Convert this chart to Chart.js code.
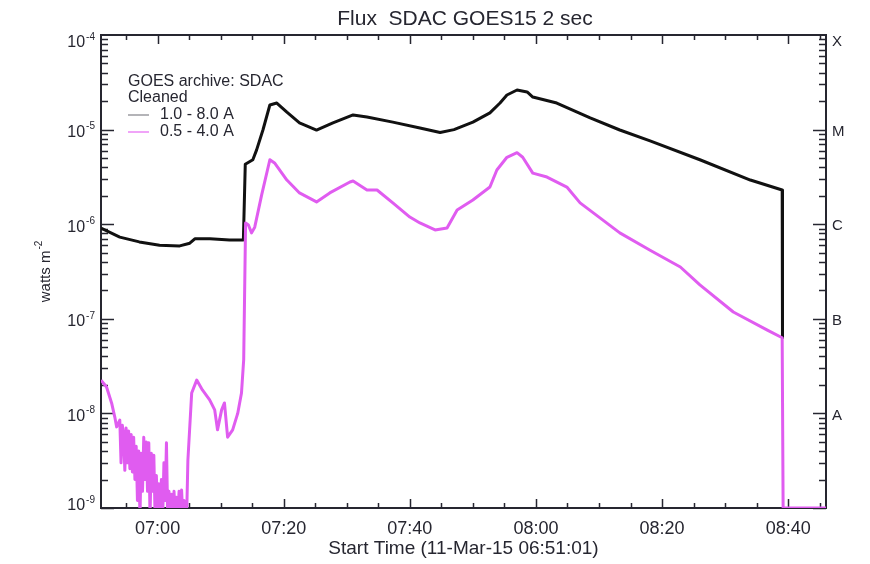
<!DOCTYPE html>
<html>
<head>
<meta charset="utf-8">
<title>Flux SDAC GOES15 2 sec</title>
<script src="https://cdn.jsdelivr.net/npm/chart.js@4.4.1/dist/chart.umd.min.js"></script>
<style>
  html, body { margin: 0; padding: 0; background: #fff; }
  #wrap { width: 870px; height: 564px; }
</style>
</head>
<body>
<div id="wrap"><canvas id="flux" width="870" height="564"></canvas></div>
<script>
// times are minutes after 07:00 UT on 11-Mar-15, start of plot is 06:51:01
const timeLong = [-8.98, -6.0, -2.9, 0.3, 3.5, 5.1, 5.9, 8.3, 11.4, 13.6, 13.9, 15.1, 15.7, 16.7, 17.8, 18.9,
    20.5, 22.5, 25.2, 27.8, 31.0, 33.2, 37.3, 41.6, 44.8, 47.0, 50.0, 52.7, 54.3, 55.4, 57.0, 58.6, 59.5,
    63.3, 68.6, 73.3, 78.1, 86.0, 94.0, 99.05, 99.1];
const fluxLong = [9.1e-7, 7.3e-7, 6.5e-7, 6.0e-7, 5.9e-7, 6.3e-7, 7.0e-7, 7.0e-7, 6.8e-7, 6.8e-7, 4.3e-6, 4.8e-6,
    6.1e-6, 9.9e-6, 1.82e-5, 1.91e-5, 1.53e-5, 1.18e-5, 9.9e-6, 1.18e-5, 1.43e-5, 1.36e-5, 1.2e-5, 1.04e-5,
    9.3e-6, 1.0e-5, 1.2e-5, 1.5e-5, 1.91e-5, 2.32e-5, 2.62e-5, 2.5e-5, 2.21e-5, 1.91e-5, 1.33e-5, 9.9e-6,
    7.6e-6, 4.8e-6, 2.93e-6, 2.3e-6, 6.3e-8];

// the 0.5-4.0 A channel is at noise level before 07:05 (dips under 1e-9 are cut by the axis)
const timeShort = [-8.98, -8.1, -7.3, -6.8, -6.5,
    -6.0, -5.8, -5.6, -5.4, -5.2, -5.0, -4.8, -4.6, -4.4, -4.2,
    -4.0, -3.8, -3.6, -3.4, -3.2, -3.0, -2.8, -2.6, -2.4, -2.2,
    -2.0, -1.8, -1.6, -1.4, -1.2, -1.0, -0.8, -0.6, -0.4, -0.2,
    0.0, 0.2, 0.4, 0.6, 0.8, 1.0, 1.2, 1.4, 1.6, 1.8,
    2.0, 2.2, 2.4, 2.6, 2.8, 3.0, 3.2, 3.4, 3.6, 3.8,
    4.0, 4.2, 4.4, 4.6, 4.8,
    5.4, 6.2, 7.1, 8.25, 9.05, 9.5, 10.15, 10.6, 11.1, 11.9,
    12.7, 13.3, 13.65, 13.95, 14.4, 14.9, 15.4, 16.5, 17.8, 18.6,
    20.5, 22.5, 25.2, 27.3, 30.5, 31.0, 33.2, 34.8, 37.3, 40.0,
    41.6, 44.0, 45.9, 47.5, 50.0, 52.7, 53.8, 55.4, 57.0, 57.9,
    59.5, 61.75, 64.9, 67.0, 73.3, 78.1, 82.9, 86.0, 91.3, 96.7,
    99.05, 99.2, 106];
const fluxShort = [2.25e-8, 1.9e-8, 1.29e-8, 9.2e-9, 7.2e-9,
    8.5e-9, 3.0e-9, 7.5e-9, 6.0e-9, 2.5e-9, 7.0e-9, 3.0e-9, 6.5e-9, 2.6e-9, 6.0e-9,
    2.4e-9, 5.6e-9, 2.0e-9, 4.5e-9, 1.2e-9, 4.0e-9, 8e-10, 3.8e-9, 1.5e-9, 5.6e-9,
    2.0e-9, 5.0e-9, 1.5e-9, 4.9e-9, 8e-10, 3.8e-9, 1.5e-9, 3.6e-9, 8e-10, 2.2e-9,
    8e-10, 1.8e-9, 8e-10, 2.0e-9, 8e-10, 3.0e-9, 1.2e-9, 4.9e-9, 8e-10, 1.5e-9,
    8e-10, 1.4e-9, 8e-10, 1.5e-9, 8e-10, 1.3e-9, 8e-10, 1.5e-9, 8e-10, 1.55e-9,
    8e-10, 1.2e-9, 8e-10, 8e-10, 3.2e-9,
    1.64e-8, 2.25e-8, 1.77e-8, 1.39e-8, 1.09e-8, 6.7e-9, 1.09e-8, 1.29e-8, 5.6e-9, 6.7e-9,
    1.0e-8, 1.64e-8, 3.7e-8, 1.03e-6, 9.8e-7, 8.1e-7, 9.3e-7, 2.04e-6, 4.8e-6, 4.4e-6,
    2.93e-6, 2.14e-6, 1.72e-6, 2.14e-6, 2.79e-6, 2.86e-6, 2.3e-6, 2.3e-6, 1.68e-6, 1.19e-6,
    1.03e-6, 8.7e-7, 9.1e-7, 1.41e-6, 1.8e-6, 2.47e-6, 3.74e-6, 5.1e-6, 5.7e-6, 5.1e-6,
    3.47e-6, 3.15e-6, 2.47e-6, 1.68e-6, 8.1e-7, 5.3e-7, 3.53e-7, 2.28e-7, 1.18e-7, 7.6e-8,
    6.3e-8, 1e-9, 1e-9];

const timeLabels = [0, 20, 40, 60, 80, 100];
const decades = [1e-9, 1e-8, 1e-7, 1e-6, 1e-5, 1e-4];
const classes = ['', 'A', 'B', 'C', 'M', 'X'];
const legendHead = ['GOES archive: SDAC', 'Cleaned'];
const seriesNames = ['1.0 - 8.0 A', '0.5 - 4.0 A'];

const FONT = "'Liberation Sans', Arial, sans-serif";
const INK = '#262630';
const MAGENTA = '#e05cf0';

const hhmm = m => {
    const t = 7 * 60 + m;
    return String(Math.floor(t / 60)).padStart(2, '0') + ':' + String(t % 60).padStart(2, '0');
};

const frame = {
    id: 'frame',
    beforeDatasetsDraw(chart) {
        const { ctx, chartArea: a, scales: { x, y } } = chart;
        ctx.save();
        ctx.strokeStyle = INK;
        ctx.lineWidth = 1.5;
        ctx.beginPath();
        for (let m = -5; m <= 105; m += 5) {
            const px = Math.round(x.getPixelForValue(m)) + 0.5;
            const len = m % 20 === 0 ? 9 : 5;
            ctx.moveTo(px, a.bottom); ctx.lineTo(px, a.bottom - len);
            ctx.moveTo(px, a.top); ctx.lineTo(px, a.top + len);
        }
        decades.slice(0, -1).forEach(d => {
            for (let k = 1; k < 10; k++) {
                const py = Math.round(y.getPixelForValue(k * d)) + 0.5;
                const len = k === 1 ? 13 : 7;
                ctx.moveTo(a.left, py); ctx.lineTo(a.left + len, py);
                ctx.moveTo(a.right, py); ctx.lineTo(a.right - len, py);
            }
        });
        ctx.stroke();
        ctx.lineWidth = 2;
        ctx.strokeRect(a.left, a.top, a.right - a.left, a.bottom - a.top);
        ctx.restore();
    },
    afterDraw(chart) {
        const { ctx, chartArea: a, scales: { y, y2 } } = chart;
        ctx.save();
        ctx.fillStyle = INK;

        ctx.font = '21px ' + FONT;
        ctx.textAlign = 'center';
        ctx.textBaseline = 'middle';
        ctx.fillText('Flux  SDAC GOES15 2 sec', 465, 19);

        // decade labels 10^-n on the left, flare classes on the right
        decades.forEach((d, i) => {
            const e = Math.round(Math.log10(d));
            let py = y.getPixelForValue(d) + 3;
            py = Math.min(Math.max(py, a.top + 8), a.bottom - 2);
            ctx.textAlign = 'right';
            ctx.font = '10px ' + FONT;
            ctx.fillText(String(e), 95, py - 6);
            const w = ctx.measureText(String(e)).width;
            ctx.font = '16px ' + FONT;
            ctx.fillText('10', 95 - w - 1, py);

            let qy = y2.getPixelForValue(d) + 2;
            qy = Math.max(qy, a.top + 7);
            ctx.textAlign = 'left';
            ctx.font = '15px ' + FONT;
            ctx.fillText(classes[i], a.right + 6, qy);
        });

        // y title
        ctx.save();
        ctx.translate(46, 272);
        ctx.rotate(-Math.PI / 2);
        ctx.font = '15px ' + FONT;
        ctx.textAlign = 'left';
        const base = 'watts m';
        const bw = ctx.measureText(base).width;
        ctx.font = '10px ' + FONT;
        const sw = ctx.measureText('-2').width;
        const x0 = -(bw + sw) / 2;
        ctx.font = '15px ' + FONT;
        ctx.fillText(base, x0, 0);
        ctx.font = '10px ' + FONT;
        ctx.fillText('-2', x0 + bw + 1, -7);
        ctx.restore();

        // legend block
        ctx.font = '16px ' + FONT;
        ctx.textAlign = 'left';
        ctx.fillText(legendHead[0], 128, 82);
        ctx.fillText(legendHead[1], 128, 98);
        ctx.fillText(seriesNames[0], 160, 115);
        ctx.fillText(seriesNames[1], 160, 132);
        ctx.lineWidth = 2;
        ctx.strokeStyle = '#b4b4b8';
        ctx.beginPath(); ctx.moveTo(128, 115); ctx.lineTo(149, 115); ctx.stroke();
        ctx.strokeStyle = '#f0a4f8';
        ctx.beginPath(); ctx.moveTo(128, 132); ctx.lineTo(149, 132); ctx.stroke();
        ctx.restore();
    }
};

Chart.defaults.font.family = FONT;
Chart.defaults.color = INK;

new Chart(document.getElementById('flux'), {
    type: 'line',
    data: {
        datasets: [{
            label: seriesNames[1],
            data: timeShort.map((t, i) => ({ x: t, y: fluxShort[i] })),
            borderColor: MAGENTA,
            borderWidth: 3,
            borderJoinStyle: 'round',
            pointRadius: 0,
            order: 1
        }, {
            label: seriesNames[0],
            data: timeLong.map((t, i) => ({ x: t, y: fluxLong[i] })),
            borderColor: '#111',
            borderWidth: 3,
            borderJoinStyle: 'round',
            pointRadius: 0,
            order: 2
        }]
    },
    options: {
        responsive: false,
        animation: false,
        devicePixelRatio: 1,
        layout: { padding: { top: 35, left: 0, right: 0, bottom: 0 } },
        plugins: { legend: { display: false }, tooltip: { enabled: false } },
        scales: {
            x: {
                type: 'linear',
                min: -8.98,
                max: 106,
                afterBuildTicks: s => { s.ticks = timeLabels.map(v => ({ value: v })); },
                afterFit: s => { s.height = 56; },
                grid: { display: false, drawTicks: false },
                border: { display: false },
                ticks: { callback: v => hhmm(v), font: { size: 18 }, padding: 10, maxRotation: 0, autoSkip: false },
                title: { display: true, text: 'Start Time (11-Mar-15 06:51:01)', font: { size: 19 }, padding: { top: 0, bottom: 4 } }
            },
            y: {
                type: 'logarithmic',
                position: 'left',
                min: 1e-9,
                max: 1e-4,
                afterBuildTicks: s => { s.ticks = decades.map(v => ({ value: v })); },
                afterFit: s => { s.width = 101; },
                grid: { display: false, drawTicks: false },
                border: { display: false },
                ticks: { display: false }
            },
            y2: {
                type: 'logarithmic',
                position: 'right',
                min: 1e-9,
                max: 1e-4,
                afterBuildTicks: s => { s.ticks = decades.map(v => ({ value: v })); },
                afterFit: s => { s.width = 44; },
                grid: { display: false, drawTicks: false },
                border: { display: false },
                ticks: { display: false }
            }
        }
    },
    plugins: [frame]
});
</script>
</body>
</html>
